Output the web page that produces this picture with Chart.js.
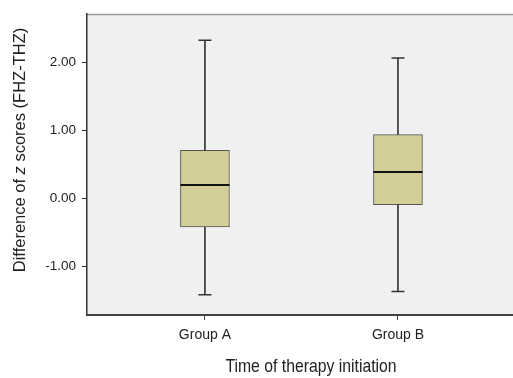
<!DOCTYPE html>
<html><head><meta charset="utf-8">
<script src="https://cdn.jsdelivr.net/npm/chart.js@4/dist/chart.umd.min.js"></script>
<style>html,body{margin:0;padding:0;background:#fff;}#wrap{width:513px;height:378px;}</style>
</head><body><div id="wrap"><canvas id="c" width="513" height="378"></canvas></div>
<script>
const categories = ['Group A', 'Group B'];
const whiskerLow = [-1.42, -1.37];
const q1 = [-0.42, -0.09];
const median = [0.20, 0.39];
const q3 = [0.71, 0.94];
const whiskerHigh = [2.33, 2.07];
const yTicks = [-1, 0, 1, 2];
const yRange = [-1.717, 2.717];
const xRange = [0.389, 2.596];
const xTitle = 'Time of therapy initiation';
const yTitleParts = [['Difference of ', false], ['z', true], [' scores (FHZ-THZ)', false]];

const REG = '"Liberation Sans", Arial, sans-serif';

const boxPlugin = {
  id: 'boxplot',
  beforeDraw(chart) {
    const {ctx, chartArea: a} = chart;
    ctx.save();
    ctx.fillStyle = '#f0f0f0';
    ctx.fillRect(a.left, a.top, a.right - a.left, a.bottom - a.top);
    ctx.strokeStyle = '#9a9a9a';
    ctx.lineWidth = 1.5;
    ctx.beginPath();
    ctx.moveTo(a.left, a.top + 0.5);
    ctx.lineTo(a.right, a.top + 0.5);
    ctx.stroke();
    ctx.restore();
  },
  afterDatasetsDraw(chart) {
    const ctx = chart.ctx, ys = chart.scales.y;
    const meta = chart.getDatasetMeta(0);
    ctx.save();
    categories.forEach((c, i) => {
      const bar = meta.data[i];
      const cx = bar.x;
      const half = bar.width / 2;
      const capHalf = 6.5;
      ctx.strokeStyle = '#222';
      ctx.lineWidth = 1.5;
      ctx.beginPath();
      ctx.moveTo(cx, ys.getPixelForValue(whiskerHigh[i]));
      ctx.lineTo(cx, ys.getPixelForValue(q3[i]));
      ctx.moveTo(cx, ys.getPixelForValue(q1[i]));
      ctx.lineTo(cx, ys.getPixelForValue(whiskerLow[i]));
      ctx.stroke();
      ctx.strokeStyle = '#333';
      ctx.beginPath();
      const yh = ys.getPixelForValue(whiskerHigh[i]);
      const yl = ys.getPixelForValue(whiskerLow[i]);
      ctx.moveTo(cx - capHalf, yh); ctx.lineTo(cx + capHalf, yh);
      ctx.moveTo(cx - capHalf, yl); ctx.lineTo(cx + capHalf, yl);
      ctx.stroke();
      ctx.strokeStyle = '#111';
      ctx.lineWidth = 2;
      const ym = ys.getPixelForValue(median[i]);
      ctx.beginPath();
      ctx.moveTo(cx - half, ym); ctx.lineTo(cx + half, ym);
      ctx.stroke();
    });
    ctx.restore();
  },
  afterDraw(chart) {
    const ctx = chart.ctx;
    ctx.save();
    ctx.fillStyle = '#222';
    ctx.textBaseline = 'middle';
    // x title (condensed)
    ctx.save();
    ctx.font = '19px ' + REG;
    ctx.textAlign = 'center';
    ctx.translate(311, 367);
    ctx.scale(0.83, 1);
    ctx.fillText(xTitle, 0, 0);
    ctx.restore();
    // y title
    ctx.translate(20, 150);
    ctx.rotate(-Math.PI / 2);
    ctx.textAlign = 'left';
    let total = 0;
    const widths = yTitleParts.map(([t, it]) => {
      ctx.font = (it ? 'italic ' : '') + '16.5px ' + REG;
      const w = ctx.measureText(t).width; total += w; return w;
    });
    let x0 = -total / 2;
    yTitleParts.forEach(([t, it], k) => {
      ctx.font = (it ? 'italic ' : '') + '16.5px ' + REG;
      ctx.fillText(t, x0, 0);
      x0 += widths[k];
    });
    ctx.restore();
  }
};

new Chart(document.getElementById('c'), {
  type: 'bar',
  data: {
    datasets: [{
      data: categories.map((c, i) => ({x: i + 1, y: [q1[i], q3[i]]})),
      backgroundColor: '#d3ce97',
      borderColor: '#555',
      borderWidth: 1,
      borderSkipped: false,
      barThickness: 49
    }]
  },
  options: {
    responsive: false,
    devicePixelRatio: 1,
    animation: false,
    layout: {padding: {top: 12, right: 0, left: 0, bottom: 0}},
    plugins: {legend: {display: false}, tooltip: {enabled: false}},
    scales: {
      x: {
        type: 'linear',
        offset: false,
        min: xRange[0], max: xRange[1],
        afterBuildTicks(s) { s.ticks = categories.map((c, i) => ({value: i + 1})); },
        afterFit(s) { s.height = 63; },
        ticks: {
          autoSkip: false, maxRotation: 0, padding: 7,
          color: '#222',
          font: {family: REG, size: 14},
          callback: (v) => categories[Math.round(v) - 1] || ''
        },
        grid: {display: true, offset: false, drawOnChartArea: false, drawTicks: true, tickLength: 5, color: '#444', lineWidth: 1},
        border: {display: true, color: '#444', width: 2}
      },
      y: {
        type: 'linear',
        min: yRange[0], max: yRange[1],
        afterBuildTicks(s) { s.ticks = yTicks.map(v => ({value: v})); },
        afterFit(s) { s.width = 87; },
        ticks: {
          padding: 6, color: '#222',
          font: {family: REG, size: 13.5},
          callback: (v) => v.toFixed(2)
        },
        grid: {display: true, drawOnChartArea: false, drawTicks: true, tickLength: 5, color: '#333', lineWidth: 1},
        border: {display: true, color: '#333', width: 1.5}
      }
    }
  },
  plugins: [boxPlugin]
});
</script>
</body></html>
